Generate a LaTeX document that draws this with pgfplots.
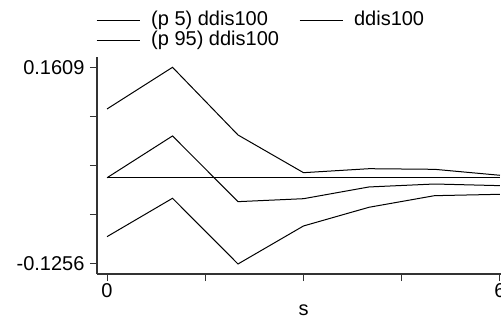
\documentclass[border=0pt]{standalone}
\usepackage{fontspec}
\setmainfont{Liberation Sans}
\usepackage{pgfplots}
\pgfplotsset{compat=1.18}
\begin{document}
\begin{tikzpicture}[x=1pt,y=1pt]
\path[use as bounding box] (0,0) rectangle (501,322);
\begin{axis}[
  at={(97pt,48pt)}, anchor=south west,
  width=413pt, height=217pt, scale only axis,
  xmin=-0.153, xmax=6.153, ymin=-0.1402, ymax=0.1759,
  axis lines*=left,
  axis line style={black!80, line width=1.2pt},
  tick align=outside,
  major tick length=7pt,
  tick style={black!80, line width=1pt},
  xtick={0,1.5,3,4.5,6}, xticklabels={\mbox{0},,,,\mbox{6}},
  ytick={0.1609,0.0893,0.0177,-0.0540,-0.1256},
  yticklabels={\mbox{0.1609},,,,\mbox{-0.1256}},
  every tick label/.append style={font=\fontsize{20}{24}\selectfont},
  yticklabel style={xshift=-2pt},
  xticklabel style={yshift=1pt},
  xlabel={s},
  xlabel style={font=\fontsize{20}{24}\selectfont, yshift=0pt},
  legend columns=2,
  legend cell align=left,
  legend image code/.code={\draw[#1] (0pt,0pt) -- (43pt,0pt);},
  legend style={at={(axis description cs:-0.0024,1.2120)}, anchor=north west,
    draw=none, fill=none, inner sep=0pt, column sep=11pt, row sep=1pt,
    font=\fontsize{20}{24}\selectfont,
    nodes={inner sep=0pt, text height=14pt, text depth=5pt}},
  clip=false,
]
\addplot[black, line width=1pt, forget plot] coordinates {(0,0) (6,0)};
\addplot[black, line width=1pt] coordinates {(0,-0.0858) (1,-0.0299) (2,-0.1256) (3,-0.0702) (4,-0.0430) (5,-0.0261) (6,-0.0241)};
\addlegendentry{(p 5) ddis100}
\addplot[black, line width=1pt] coordinates {(0,0) (1,0.0609) (2,-0.0348) (3,-0.0305) (4,-0.0134) (5,-0.0091) (6,-0.0115)};
\addlegendentry{ddis100}
\addplot[black, line width=1pt] coordinates {(0,0.1002) (1,0.1609) (2,0.0623) (3,0.0074) (4,0.0132) (5,0.0123) (6,0.0036)};
\addlegendentry{(p 95) ddis100\rule{9pt}{0pt}}
\end{axis}
\end{tikzpicture}
\end{document}
